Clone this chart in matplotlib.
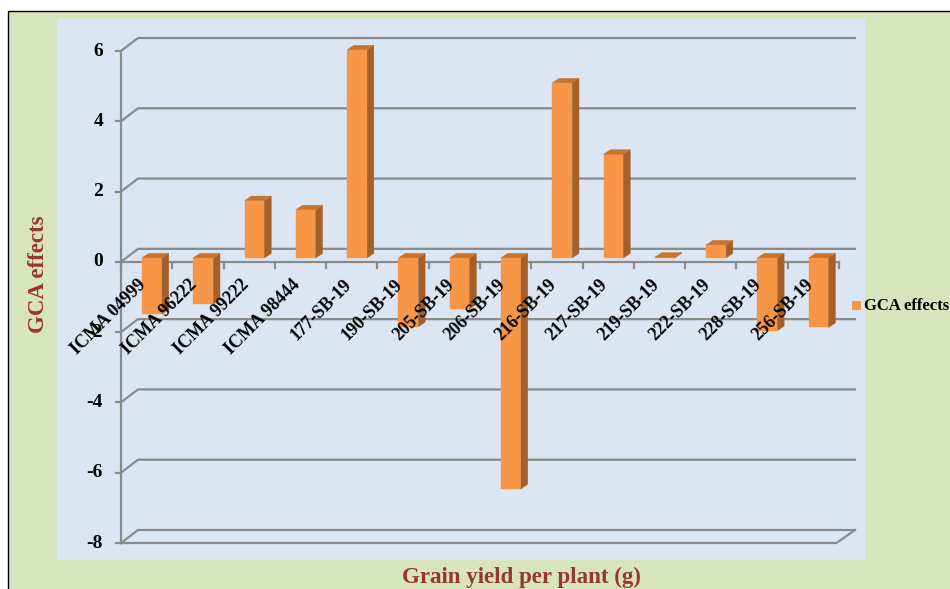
import matplotlib
matplotlib.use("Agg")
import matplotlib.pyplot as plt
from matplotlib.patches import Polygon, Rectangle

# data
genotypes = ["ICMA 04999", "ICMA 96222", "ICMA 99222", "ICMA 98444", "177-SB-19",
             "190-SB-19", "205-SB-19", "206-SB-19", "216-SB-19", "217-SB-19",
             "219-SB-19", "222-SB-19", "228-SB-19", "256-SB-19"]
gca = [-1.60, -1.32, 1.63, 1.37, 5.92, -1.96, -1.45, -6.57, 4.98, 2.95,
       0.02, 0.37, -2.07, -1.98]
yticks = [-8, -6, -4, -2, 0, 2, 4, 6]
series_name = "GCA effects"

W, H = 950, 589
serif = ["Liberation Serif", "DejaVu Serif"]
grid_c = "#8a8a8a"
front_c, side_c, top_c = "#F79646", "#A3602B", "#C8742F"

fig = plt.figure(figsize=(W / 100, H / 100), dpi=100)
fig.patch.set_facecolor("white")

# outer chart area (green) and plot area (blue)
fig.patches.append(Rectangle((8 / W, -0.1), 1.0, (H - 11) / H + 0.1, transform=fig.transFigure,
                             facecolor="#D8E4BE", edgecolor="black", lw=1.0, zorder=0))
fig.patches.append(Rectangle((57 / W, (H - 560) / H), 808 / W, 541 / H, transform=fig.transFigure,
                             facecolor="#DCE6F2", edgecolor="none", zorder=0.5))

# axes spans the front frame of the 3-D box
ax = fig.add_axes([121 / W, (H - 543) / H, 718 / W, 492 / H])
ax.set_zorder(2)
ax.set_xlim(0, len(genotypes))
ax.set_ylim(yticks[0], yticks[-1])
ax.axis("off")
ax.patch.set_visible(False)

n = len(genotypes)
DX, DY = 0.331, 0.37          # depth of the box (category units, value units)
xr = n + DX - 0.02

# back wall gridlines + left wall slants
for v in yticks:
    ax.plot([0, DX, xr], [v, v + DY, v + DY], color=grid_c, lw=1.6, clip_on=False, zorder=2)
# floor
ax.plot([0, n - 0.05, xr], [yticks[0], yticks[0], yticks[0] + DY], color=grid_c, lw=1.6,
        clip_on=False, zorder=2)
# vertical axis + ticks
ax.plot([0, 0], [yticks[0], yticks[-1]], color=grid_c, lw=1.6, clip_on=False, zorder=3)
for v in yticks:
    ax.plot([-0.1, 0], [v, v], color=grid_c, lw=1.6, clip_on=False, zorder=3)
    ax.text(-0.35, v, str(v), ha="right", va="center", fontsize=14, fontweight="bold",
            family=serif, clip_on=False)
# category axis at zero
ax.plot([0, n], [0, 0], color=grid_c, lw=1.6, clip_on=False, zorder=3)
for k in range(n + 1):
    ax.plot([k, k], [0, -0.17], color=grid_c, lw=1.6, clip_on=False, zorder=3)

# bars
bw, bx0, by0 = 0.39, 0.41, 0.114
bdx, bdy = 0.13, 0.128
for i, v in enumerate(gca):
    x0 = i + bx0
    x1 = x0 + bw
    lo, hi = min(by0, by0 + v), max(by0, by0 + v)
    ax.add_patch(Polygon([(x0, lo), (x1, lo), (x1, hi), (x0, hi)], closed=True,
                         facecolor=front_c, edgecolor=front_c, lw=0.3, zorder=5, clip_on=False))
    ax.add_patch(Polygon([(x1, lo), (x1 + bdx, lo + bdy), (x1 + bdx, hi + bdy), (x1, hi)], closed=True,
                         facecolor=side_c, edgecolor=side_c, lw=0.3, zorder=5, clip_on=False))
    ax.add_patch(Polygon([(x0, hi), (x1, hi), (x1 + bdx, hi + bdy), (x0 + bdx, hi + bdy)], closed=True,
                         facecolor=top_c, edgecolor=top_c, lw=0.3, zorder=5, clip_on=False))

# category labels
for i, name in enumerate(genotypes):
    ax.text(i + 0.44, -0.57, name, rotation=45, rotation_mode="anchor", ha="right", va="center",
            fontsize=13, fontweight="bold", family=serif, zorder=6, clip_on=False)

# axis titles
fig.text(38 / W, (H - 274) / H, "GCA effects", rotation=90, ha="center", va="center",
         fontsize=16.5, fontweight="bold", family=serif, color="#953735")
fig.text(521 / W, (H - 583) / H, "Grain yield per plant (g)", ha="center", va="baseline",
         fontsize=16.5, fontweight="bold", family=serif, color="#953735")

# legend
fig.patches.append(Rectangle((852 / W, (H - 310) / H), 9 / W, 9 / H, transform=fig.transFigure,
                             facecolor=front_c, edgecolor="none", zorder=3))
fig.text(864 / W, (H - 305.5) / H, series_name, ha="left", va="center",
         fontsize=12, fontweight="bold", family=serif)

fig.savefig("out.png", dpi=100)
